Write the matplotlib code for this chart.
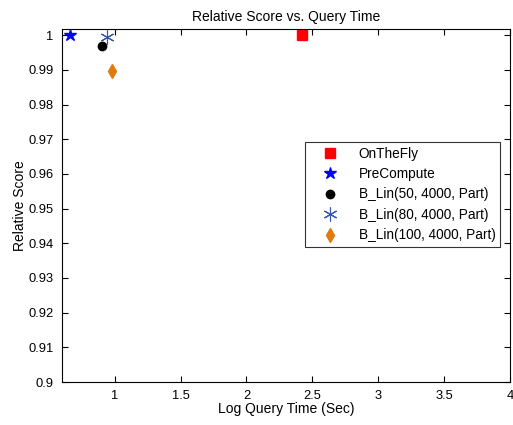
import numpy as np
from matplotlib import pyplot as plt

plt.rcParams['font.family'] = ['Liberation Sans', 'DejaVu Sans']

# Data
names = ["OnTheFly", "PreCompute", "B_Lin(50, 4000, Part)",
         "B_Lin(80, 4000, Part)", "B_Lin(100, 4000, Part)"]
log_time = [2.42, 0.66, 0.90, 0.94, 0.98]
rel_score = [1.0, 1.0, 0.997, 0.9994, 0.9896]

markers = ["s", "*", "o", "x", "d"]
colors = ["#ff0000", "#0000ff", "#000000", "#3355aa", "#e07b0f"]
sizes = [7, 9, 6, 10, 7]

fig = plt.figure(figsize=(5.13, 4.25), dpi=100)
ax = fig.add_axes([0.121, 0.101, 0.873, 0.831])

for n, x, y, m, c, s in zip(names, log_time, rel_score, markers, colors, sizes):
    if m == "x":
        # asterisk-like marker
        ax.plot(x, y, linestyle="none", marker=(6, 2, 0), markersize=s,
                color=c, markeredgewidth=0.8, label=n)
    else:
        ax.plot(x, y, linestyle="none", marker=m, markersize=s,
                color=c, markeredgecolor=c, label=n)

ax.set_xlim(0.6, 4)
ax.set_ylim(0.9, 1.0018)
ax.set_xticks([1, 1.5, 2, 2.5, 3, 3.5, 4])
ax.set_xticklabels(["1", "1.5", "2", "2.5", "3", "3.5", "4"])
ax.set_yticks(np.round(np.arange(0.9, 1.0001, 0.01), 2))
ax.set_yticklabels(["0.9", "0.91", "0.92", "0.93", "0.94", "0.95",
                    "0.96", "0.97", "0.98", "0.99", "1"])
ax.tick_params(direction="in", top=True, right=True, labelsize=9.3, length=4)
ax.tick_params(axis="x", pad=6)
ax.tick_params(axis="y", pad=6)

ax.set_xlabel("Log Query Time (Sec)", fontsize=10, labelpad=0)
ax.set_ylabel("Relative Score", fontsize=10, labelpad=1)
ax.set_title("Relative Score vs. Query Time", fontsize=10, pad=6)

leg = ax.legend(loc="upper left", bbox_to_anchor=(0.542, 0.68), fontsize=9.8,
                frameon=True, fancybox=False, edgecolor="black",
                borderpad=0.35, handlelength=3.0, handletextpad=0.6,
                labelspacing=0.47, borderaxespad=0)
leg.get_frame().set_linewidth(0.8)

plt.savefig("out.png", dpi=100)
